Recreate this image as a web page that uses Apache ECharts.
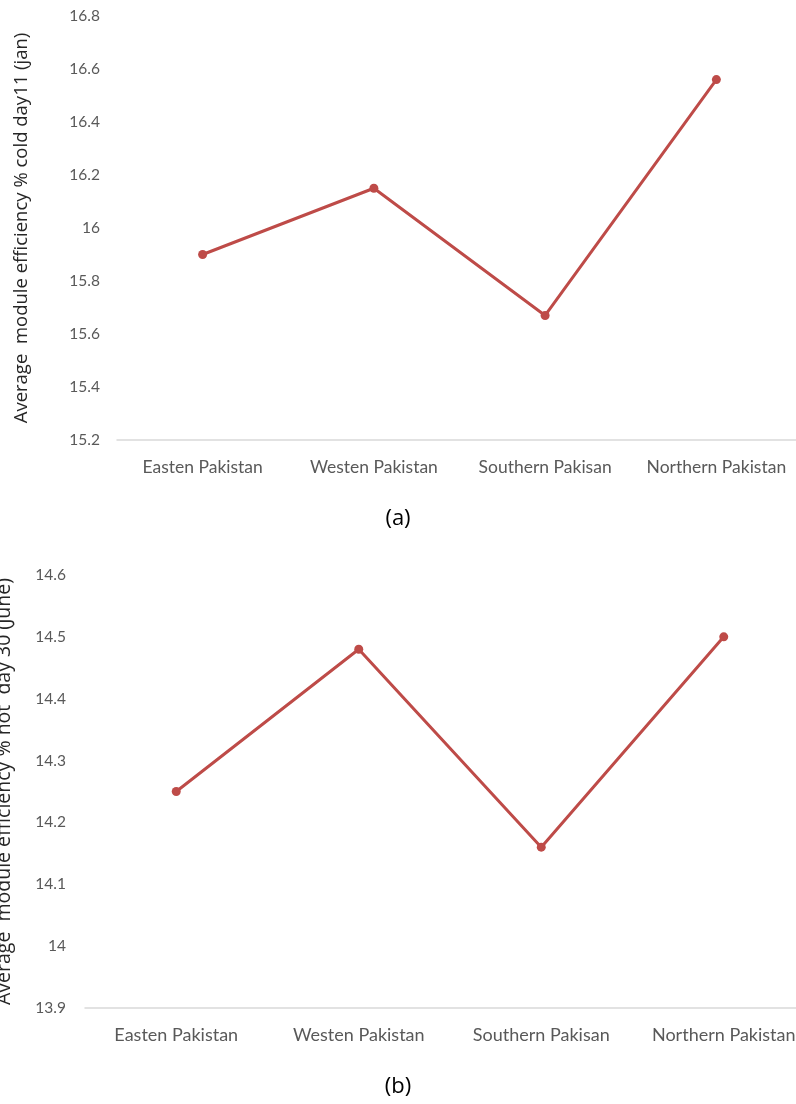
<!DOCTYPE html>
<html>
<head>
<meta charset="utf-8">
<script src="https://cdn.jsdelivr.net/npm/echarts@6/dist/echarts.min.js"></script>
<style>
html,body{margin:0;padding:0;background:#fff;}
#c{width:796px;height:1104px;}
</style>
</head>
<body>
<div id="c"></div>
<script>
var categories = ['Easten Pakistan', 'Westen Pakistan', 'Southern Pakisan', 'Northern Pakistan'];
var coldJan = [15.90, 16.15, 15.67, 16.56];
var hotJune = [14.25, 14.48, 14.16, 14.50];
var coldAxisName = 'Average  module efficiency % cold day11 (jan)';
var hotAxisName = 'Average  module efficiency % hot  day 30 (June)';
var captions = ['(a)', '(b)'];

var lineColor = '#BE4B48';
var chart = echarts.init(document.getElementById('c'), null, {renderer: 'canvas'});

function xAxis(idx, fs) {
  return {
    type: 'category', gridIndex: idx, data: categories, boundaryGap: true,
    axisLine: {lineStyle: {color: '#D9D9D9', width: 1.5}},
    axisTick: {show: false},
    axisLabel: {margin: 18, color: '#595959', fontFamily: 'Lato', fontSize: fs, interval: 0},
    splitLine: {show: false}
  };
}
function yAxis(idx, min, max, interval, name, gap, nfs, lm) {
  return {
    type: 'value', gridIndex: idx, min: min, max: max, interval: interval,
    name: name, nameLocation: 'middle', nameGap: gap, nameRotate: 90,
    nameTextStyle: {color: '#262626', fontFamily: 'Open Sans', fontSize: nfs},
    axisLine: {show: false}, axisTick: {show: false},
    axisLabel: {margin: lm, color: '#595959', fontFamily: 'Lato', fontSize: 15.5,
      formatter: function (v) { return String(+v.toFixed(1)); }},
    splitLine: {show: false}
  };
}
function series(idx, data) {
  return {
    type: 'line', xAxisIndex: idx, yAxisIndex: idx, data: data,
    symbol: 'circle', symbolSize: 9,
    lineStyle: {color: lineColor, width: 3},
    itemStyle: {color: lineColor},
    animation: false
  };
}

chart.setOption({
  animation: false,
  grid: [
    {left: 117, top: 16, width: 685, height: 424, outerBoundsMode: 'none', containLabel: false},
    {left: 85, top: 575, width: 730, height: 433, outerBoundsMode: 'none', containLabel: false}
  ],
  xAxis: [xAxis(0, 17.5), xAxis(1, 18)],
  yAxis: [
    yAxis(0, 15.2, 16.8, 0.2, coldAxisName, 86, 18.5, 17),
    yAxis(1, 13.9, 14.6, 0.1, hotAxisName, 71, 19.5, 19)
  ],
  series: [series(0, coldJan), series(1, hotJune)],
  graphic: [
    {type: 'text', left: 'center', top: 508, style: {text: captions[0], fontFamily: 'Open Sans', fontSize: 22, fill: '#000'}},
    {type: 'text', left: 'center', top: 1076, style: {text: captions[1], fontFamily: 'Open Sans', fontSize: 22, fill: '#000'}}
  ]
});
</script>
</body>
</html>
